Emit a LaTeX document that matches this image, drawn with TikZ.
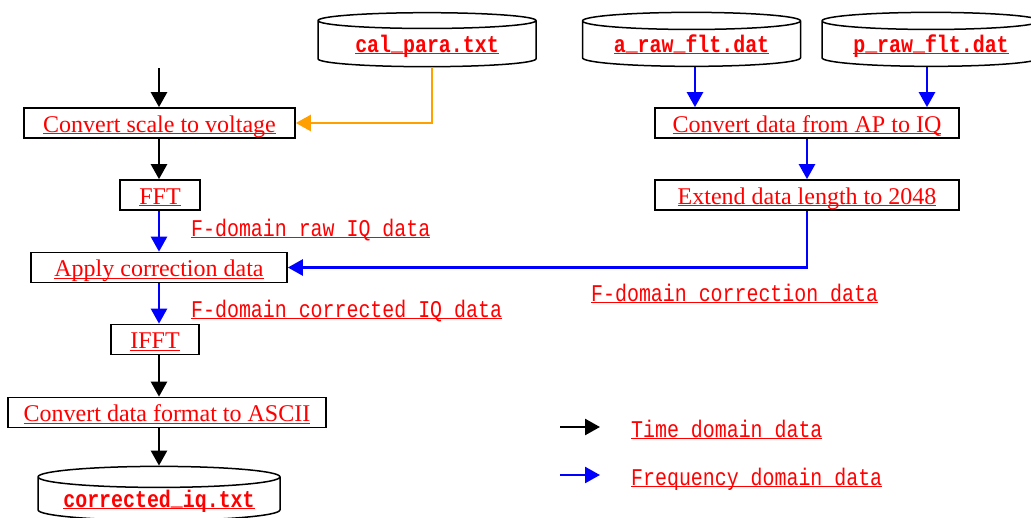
\documentclass[tikz,border=0pt]{standalone}
\usepackage{fontspec}
\setmainfont{Liberation Serif}
\setmonofont[FakeStretch=0.83]{Liberation Mono}
\usetikzlibrary{shapes.geometric,arrows.meta}
\definecolor{calorange}{RGB}{255,160,0}
\newcommand{\ulred}[1]{\underline{\smash{#1}}}
\newcommand{\us}{\raisebox{0.08em}{\_}}

\begin{document}
\begin{tikzpicture}[x=1pt,y=-1pt]
\tikzstyle{proc}=[draw,line width=1.7pt,inner sep=0pt,minimum height=30pt,text height=21pt,text depth=3pt,text=red,font=\fontsize{24}{27}\selectfont]
\tikzstyle{store}=[draw,cylinder,shape border rotate=90,aspect=0.11,line width=1.5pt,inner sep=0pt,minimum width=218pt,minimum height=54pt,text height=16pt,text depth=0pt,text=red,font=\ttfamily\bfseries\fontsize{24}{28}\selectfont]
\tikzstyle{lbl}=[anchor=base west,inner sep=0pt,text=red,font=\ttfamily\fontsize{24}{28}\selectfont]
\tikzstyle{tflow}=[draw,line width=2.5pt,-{Triangle[length=15pt,width=16pt]}]
\tikzstyle{fflow}=[tflow,blue]
\tikzstyle{cflow}=[tflow,calorange]
\useasboundingbox (0,0) rectangle (1031,517);
% data files
\node [store] (cal) at (427,44) {\ulred{cal\us para.txt}};
\node [store] (araw) at (691.5,44) {\ulred{a\us raw\us flt.dat}};
\node [store] (praw) at (931,44) {\ulred{p\us raw\us flt.dat}};
% left column
\coordinate (in) at (159,68);
\node [proc,minimum width=271pt] (volt) at (159.5,123) {\ulred{Convert scale to voltage}};
\node [proc,minimum width=80pt] (fft) at (160,195) {\ulred{FFT}};
\node [proc,minimum width=256pt] (apply) at (159,267.5) {\ulred{Apply correction data}};
\node [proc,minimum width=88pt] (ifft) at (155,339.5) {\ulred{IFFT}};
\node [proc,minimum width=318pt] (ascii) at (167,412.5) {\ulred{Convert data format to ASCII}};
\node [store,minimum width=242pt] (outf) at (159,499) {\ulred{corrected\us iq.txt}};
% right column
\node [proc,minimum width=304pt] (ap) at (807,123) {\ulred{Convert data from AP to IQ}};
\node [proc,minimum width=304pt] (ext) at (807,195) {\ulred{Extend data length to 2048}};
% labels
\node [lbl] (rawlbl) at (191,236) {\ulred{F-domain raw IQ data}};
\node [lbl] (corlbl) at (191,317) {\ulred{F-domain corrected IQ data}};
\node [lbl] (tablbl) at (591,301) {\ulred{F-domain correction data}};
% connectors
\draw [tflow] (in) -- (volt.north -| in);
\draw [cflow] ([xshift=5pt]cal.south) |- (volt.east);
\draw [tflow] (volt.south -| in) -- (fft.north -| in);
\draw [fflow] (fft.south -| in) -- (apply.north -| in);
\draw [fflow] (apply.south -| in) -- (ifft.north -| in);
\draw [tflow] (ifft.south -| in) -- (ascii.north -| in);
\draw [tflow] (ascii.south -| in) -- (outf.north -| in);
\draw [fflow] ([xshift=3.5pt]araw.south) -- ([xshift=3.5pt]araw.south |- ap.north);
\draw [fflow] ([xshift=-4pt]praw.south) -- ([xshift=-4pt]praw.south |- ap.north);
\draw [fflow] (ap.south) -- (ext.north);
\draw [fflow] (ext.south) |- (apply.east);
% legend
\coordinate (tleg) at (560,427);
\coordinate (fleg) at (560,475);
\node [lbl] (tlbl) at (631,437) {\ulred{Time domain data}};
\node [lbl] (flbl) at (631,485) {\ulred{Frequency domain data}};
\draw [tflow] (tleg) -- +(40,0);
\draw [fflow] (fleg) -- +(40,0);
\end{tikzpicture}
\end{document}
